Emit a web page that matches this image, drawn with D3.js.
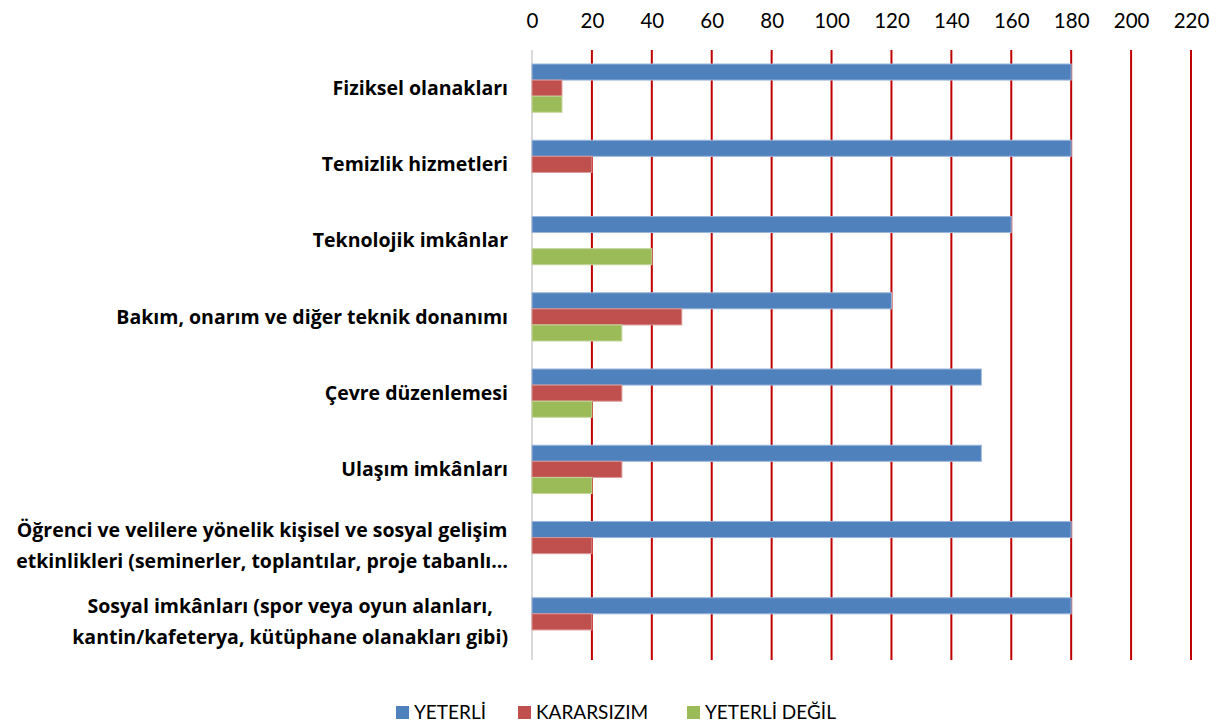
<!DOCTYPE html>
<html>
<head>
<meta charset="utf-8">
<script src="https://cdn.jsdelivr.net/npm/d3@7"></script>
<style>
    body { margin: 0; background: #fff; }
    svg { font-family: Lato, "Open Sans", sans-serif; }
</style>
</head>
<body>
<div id="chart"></div>
<script>
// categories (top to bottom), lines split as shown in the chart
const categories = [
    ["Fiziksel olanakları"],
    ["Temizlik hizmetleri"],
    ["Teknolojik imkânlar"],
    ["Bakım, onarım ve diğer teknik donanımı"],
    ["Çevre düzenlemesi"],
    ["Ulaşım imkânları"],
    ["Öğrenci ve velilere yönelik kişisel ve sosyal gelişim", "etkinlikleri (seminerler, toplantılar, proje tabanlı…"],
    ["Sosyal imkânları (spor veya oyun alanları,", "kantin/kafeterya, kütüphane olanakları gibi)"]
];
const seriesNames = ["YETERLİ", "KARARSIZIM", "YETERLİ DEĞİL"];
const yeterli = [180, 180, 160, 120, 150, 150, 180, 180];
const kararsizim = [10, 20, 0, 50, 30, 30, 20, 20];
const yeterliDegil = [10, 0, 40, 30, 20, 20, 0, 0];
const tickValues = [0, 20, 40, 60, 80, 100, 120, 140, 160, 180, 200, 220];

const colors = ["#4f81bd", "#c0504d", "#9bbb59"];
const strokes = ["#9db7db", "#d99694", "#c3d69b"];

const W = 1224, H = 727;
const margin = { top: 50, right: 33, bottom: 67, left: 532 };
const width = W - margin.left - margin.right;
const height = H - margin.top - margin.bottom;

const svg = d3.select("#chart").append("svg")
    .attr("width", W)
    .attr("height", H);

const g = svg.append("g").attr("transform", `translate(${margin.left},${margin.top})`);

const keys = categories.map((c, i) => i);
const values = [yeterli, kararsizim, yeterliDegil];

const x = d3.scaleLinear().domain([0, 220]).range([0, width]);

const y = d3.scaleBand()
    .domain(keys)
    .range([0, height])
    .paddingInner(0.367)
    .paddingOuter(0.1835);

const ySub = d3.scaleBand()
    .domain([0, 1, 2])
    .range([0, y.bandwidth()]);

// top axis labels
const xAxis = svg.append("g")
    .attr("transform", `translate(${margin.left},${margin.top - 29})`)
    .call(d3.axisTop(x).tickValues(tickValues).tickSize(0).tickPadding(0));
xAxis.select(".domain").remove();
xAxis.selectAll("text")
    .attr("dy", "0.35em")
    .attr("font-size", 20.5)
    .attr("font-family", "Lato, sans-serif")
    .attr("fill", "#000");

// red gridlines
g.selectAll("line.grid")
    .data(tickValues.slice(1))
    .enter().append("line")
    .attr("class", "grid")
    .attr("x1", d => x(d))
    .attr("x2", d => x(d))
    .attr("y1", 0)
    .attr("y2", height)
    .attr("stroke", "#c00000")
    .attr("stroke-width", 2);

// category axis line
g.append("line")
    .attr("x1", 0).attr("x2", 0)
    .attr("y1", 0).attr("y2", height)
    .attr("stroke", "#d9d9d9")
    .attr("stroke-width", 2);

// bars
values.forEach((vals, s) => {
    g.selectAll(`rect.s${s}`)
        .data(vals)
        .enter().append("rect")
        .attr("class", `s${s}`)
        .attr("x", 0)
        .attr("y", (d, i) => y(i) + ySub(s))
        .attr("width", d => x(d))
        .attr("height", ySub.bandwidth())
        .attr("fill", colors[s])
        .attr("stroke", d => d > 0 ? strokes[s] : "none")
        .attr("stroke-width", 1);
});

// category labels: block right-aligned, lines centred inside the block
const labelRight = -24;
keys.forEach(i => {
    const lines = categories[i];
    const cy = margin.top + y(i) + y.bandwidth() / 2;
    const lh = 31;
    const grp = svg.append("g");
    const texts = lines.map((t, j) => grp.append("text")
        .attr("y", cy + (j - (lines.length - 1) / 2) * lh)
        .attr("dy", "0.35em")
        .attr("font-size", 19.5)
        .attr("font-family", "'Open Sans', sans-serif")
        .attr("font-weight", "bold")
        .attr("text-anchor", "middle")
        .attr("fill", "#000")
        .text(t));
    const widths = texts.map(t => t.node().getComputedTextLength());
    const maxW = d3.max(widths);
    texts.forEach(t => t.attr("x", margin.left + labelRight - maxW / 2));
});

// legend
const legendX = [396, 518, 687];
const legend = svg.append("g").attr("transform", `translate(0,${712.5})`);
seriesNames.forEach((name, s) => {
    legend.append("rect")
        .attr("x", legendX[s])
        .attr("y", -6.5)
        .attr("width", 13)
        .attr("height", 13)
        .attr("fill", colors[s]);
    legend.append("text")
        .attr("x", legendX[s] + 18)
        .attr("y", 0)
        .attr("dy", "0.35em")
        .attr("font-size", 19)
        .attr("fill", "#000")
        .text(name);
});
</script>
</body>
</html>
